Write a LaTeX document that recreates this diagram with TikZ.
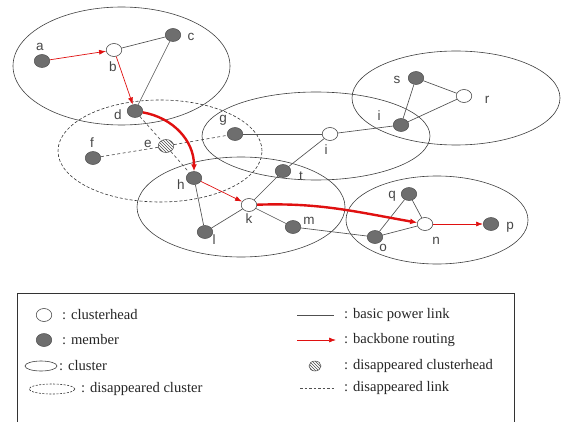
\documentclass[tikz,border=0pt]{standalone}
\usepackage{fontspec}
\setmainfont{Liberation Serif}
\newfontfamily\labelfont{Liberation Sans}
\usetikzlibrary{arrows.meta,patterns,shapes.geometric}
\definecolor{linkgray}{HTML}{505050}
\definecolor{memberfill}{HTML}{6E6E6E}
\definecolor{routered}{HTML}{E01010}
\tikzset{
  member/.style={ellipse,draw=black!70,fill=memberfill,minimum width=15.5pt,minimum height=13pt,inner sep=0pt,line width=0.5pt},
  head/.style={ellipse,draw=black!70,fill=white,minimum width=15.5pt,minimum height=13pt,inner sep=0pt,line width=0.6pt},
  gonehead/.style={ellipse,draw=black!70,pattern=north west lines,pattern color=black!70,minimum width=15.5pt,minimum height=13pt,inner sep=0pt,line width=0.5pt},
  lbl/.style={font=\labelfont\fontsize{13.5}{13.5}\selectfont,text=black!72,inner sep=0pt},
  cluster/.style={draw=black!75,line width=0.6pt},
  gonecluster/.style={draw=black!80,dashed,dash pattern=on 3pt off 2pt,line width=0.6pt},
  link/.style={draw=linkgray,line width=0.65pt},
  gonelink/.style={draw=linkgray,dash pattern=on 3pt off 2.5pt,line width=0.65pt},
  route/.style={draw=routered,line width=0.7pt,-{Latex[length=7pt,width=5pt]}},
  backbone/.style={draw=routered,line width=2.4pt,-{Latex[length=7pt,width=6pt]}},
  legtext/.style={font=\fontsize{14.6}{14.6}\selectfont,anchor=west,inner sep=0pt,text=black!85},
}
\begin{document}
\begin{tikzpicture}[x=1pt,y=1pt]
\useasboundingbox (0,0) rectangle (561,421);
\fill[white] (0,0) rectangle (561,421);

% clusters
\draw[cluster] (121.5,355) ellipse [x radius=108.5,y radius=59];
\draw[gonecluster] (160,270) ellipse [x radius=102,y radius=51];
\draw[cluster] (316,285) ellipse [x radius=114,y radius=44];
\draw[cluster] (456,323) ellipse [x radius=104,y radius=47];
\draw[cluster] (241,214) ellipse [x radius=104,y radius=50];
\draw[cluster] (437,201) ellipse [x radius=91,y radius=44];

% nodes
\node[member] (a) at (42,360) {};
\node[head]   (b) at (114,371) {};
\node[member] (c) at (173,386) {};
\node[member] (d) at (135,310) {};
\node[gonehead] (e) at (166,275) {};
\node[member] (f) at (93,263) {};
\node[member] (g) at (235,287) {};
\node[member] (h) at (194,243) {};
\node[head]   (i1) at (330,287) {};
\node[member] (i2) at (401,296) {};
\node[member] (s) at (416,343) {};
\node[head]   (r) at (464,325) {};
\node[member] (t) at (283,250) {};
\node[head]   (k) at (249,216) {};
\node[member] (l) at (205,189) {};
\node[member] (m) at (293,194) {};
\node[member] (q) at (409,227) {};
\node[head]   (n) at (425,197) {};
\node[member] (o) at (375,184) {};
\node[member] (p) at (491,197) {};

% labels
\node[lbl] at (40,374) {a};
\node[lbl] at (113,354) {b};
\node[lbl] at (191,384) {c};
\node[lbl] at (118,306) {d};
\node[lbl] at (148,277) {e};
\node[lbl] at (92,278) {f};
\node[lbl] at (223,301) {g};
\node[lbl] at (181,236) {h};
\node[lbl] at (326,271) {i};
\node[lbl] at (379,305) {i};
\node[lbl] at (397,341) {s};
\node[lbl] at (487,321) {r};
\node[lbl] at (301,245) {t};
\node[lbl] at (249,202) {k};
\node[lbl] at (214,181) {l};
\node[lbl] at (309,200) {m};
\node[lbl] at (392,225) {q};
\node[lbl] at (436,180) {n};
\node[lbl] at (383,173) {o};
\node[lbl] at (510,194) {p};

% basic power links
\draw[link] (b) -- (c);
\draw[link] (c) -- (d);
\draw[link] (h) -- (l);
\draw[link] (l) -- (k);
\draw[link] (k) -- (t);
\draw[link] (t) -- (i1);
\draw[link] (g) -- (i1);
\draw[link] (i1) -- (i2);
\draw[link] (i2) -- (s);
\draw[link] (i2) -- (r);
\draw[link] (s) -- (r);
\draw[link] (k) -- (m);
\draw[link] (m) -- (o);
\draw[link] (o) -- (n);
\draw[link] (o) -- (q);
\draw[link] (q) -- (n);

% disappeared links
\draw[gonelink] (d) -- (e);
\draw[gonelink] (e) -- (h);
\draw[gonelink] (f) -- (e);
\draw[gonelink] (e) -- (g);

% routing
\draw[route] (a) -- (b);
\draw[route] (b) -- (d);
\draw[route] (h) -- (k);
\draw[route] (n) -- (p);
\draw[backbone] (d) to[out=-10,in=90] (h);
\draw[backbone] (k) to[out=2,in=170] (n);

% legend
\draw[black!80,line width=0.6pt] (17,-5) -- (17,128) -- (514,128) -- (514,-5);
\node[head] (lh) at (44,106) {};
\node[legtext] at (62,106) {: clusterhead};
\node[member] (lm) at (44,81) {};
\node[legtext] at (62,81) {: member};
\draw[cluster] (41,55) ellipse [x radius=16,y radius=5];
\node[legtext] at (59,55) {: cluster};
\draw[gonecluster,dash pattern=on 2pt off 1.5pt] (52,32) ellipse [x radius=23,y radius=5];
\node[legtext] at (81,32) {: disappeared cluster};

\coordinate (l1a) at (297,106); \coordinate (l1b) at (334,106);
\draw[link] (l1a) -- (l1b);
\node[legtext] at (344,106) {: basic power link};
\coordinate (l2a) at (297,81); \coordinate (l2b) at (336,81);
\draw[route] (l2a) -- (l2b);
\node[legtext] at (344,81) {: backbone routing};
\node[gonehead,minimum width=12pt,minimum height=10pt] (lg) at (315,55) {};
\node[legtext] at (344,55) {: disappeared clusterhead};
\coordinate (l4a) at (300,33); \coordinate (l4b) at (335,33);
\draw[gonelink,dash pattern=on 2.5pt off 2pt] (l4a) -- (l4b);
\node[legtext] at (344,33) {: disappeared link};
\end{tikzpicture}
\end{document}
